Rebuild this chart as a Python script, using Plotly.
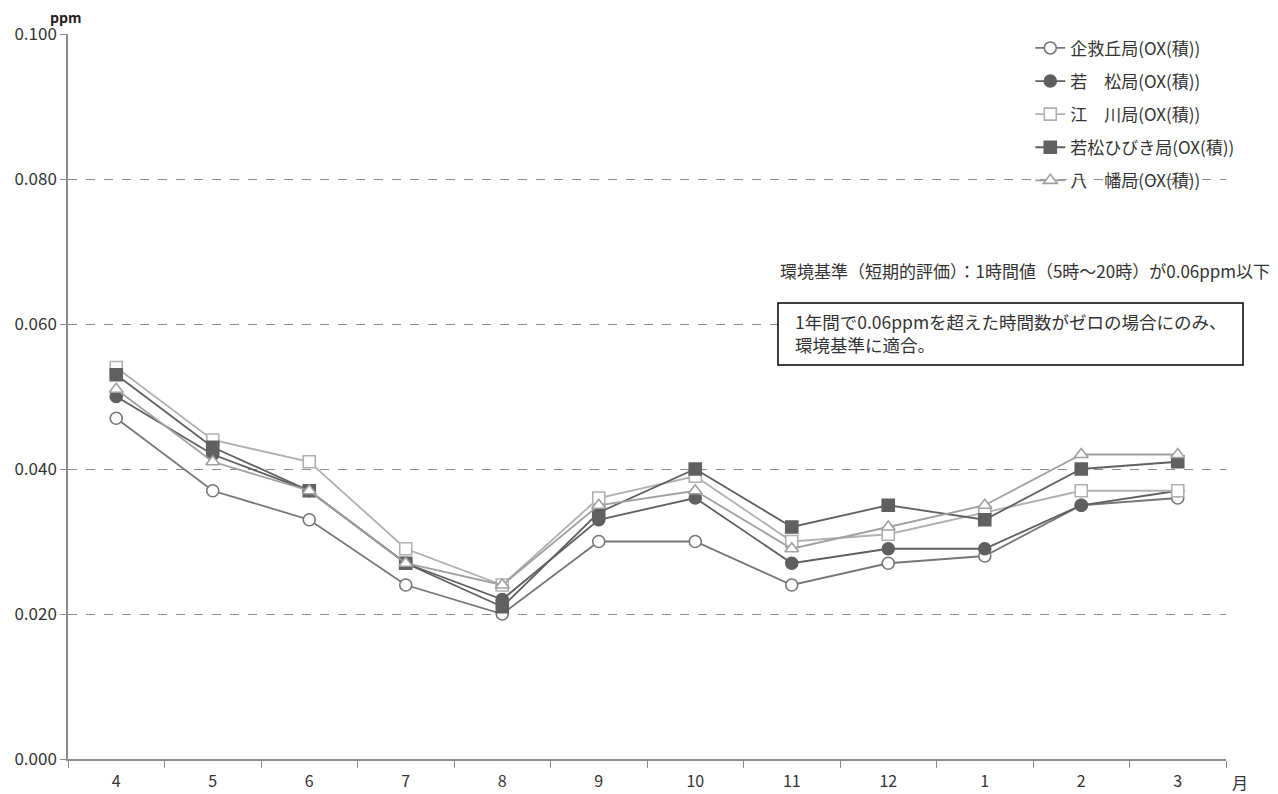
import plotly.graph_objects as go

months = ["4", "5", "6", "7", "8", "9", "10", "11", "12", "1", "2", "3"]

kikugaoka = [0.047, 0.037, 0.033, 0.024, 0.020, 0.030, 0.030, 0.024, 0.027, 0.028, 0.035, 0.036]
wakamatsu = [0.050, 0.042, 0.037, 0.027, 0.022, 0.033, 0.036, 0.027, 0.029, 0.029, 0.035, 0.037]
egawa = [0.054, 0.044, 0.041, 0.029, 0.024, 0.036, 0.039, 0.030, 0.031, 0.034, 0.037, 0.037]
hibiki = [0.053, 0.043, 0.037, 0.027, 0.021, 0.034, 0.040, 0.032, 0.035, 0.033, 0.040, 0.041]
yahata = [0.051, 0.041, 0.037, 0.027, 0.024, 0.035, 0.037, 0.029, 0.032, 0.035, 0.042, 0.042]

series = [
    ("企救丘局(OX(積))", kikugaoka, "circle", "#767676", "white"),
    ("若\u3000松局(OX(積))", wakamatsu, "circle", "#5f5f5f", "#5f5f5f"),
    ("江\u3000川局(OX(積))", egawa, "square", "#b0b0b0", "white"),
    ("若松ひびき局(OX(積))", hibiki, "square", "#606060", "#606060"),
    ("八\u3000幡局(OX(積))", yahata, "triangle-up", "#a0a0a0", "white"),
]

FONT = "Noto Sans CJK JP"

fig = go.Figure()
for i, (name, vals, sym, col, fill) in enumerate(series):
    fig.add_trace(go.Scatter(
        x=months, y=vals, name=name, mode="lines+markers",
        legendgroup=f"g{i}",
        line=dict(color=col, width=1.8),
        marker=dict(symbol=sym, size=12, color=fill, line=dict(color=col, width=1.6)),
    ))

fig.update_layout(
    width=1270, height=786,
    margin=dict(l=60, r=52, t=26, b=35),
    plot_bgcolor="white", paper_bgcolor="white",
    font=dict(family=FONT, size=14, color="#333333"),
    showlegend=True,
    legend=dict(
        x=0.831, y=1.005, xanchor="left", yanchor="top",
        bgcolor="rgba(0,0,0,0)", font=dict(size=17, color="#333333"),
        tracegroupgap=8, itemwidth=30,
    ),
    xaxis=dict(
        type="category", range=[-0.5, 11.5], automargin=False,
        showline=True, linecolor="#8c8c8c", linewidth=1.5,
        ticks="outside", tickson="boundaries", ticklen=7, tickcolor="#8c8c8c",
        ticklabelstandoff=7,
        showgrid=False, tickfont=dict(size=16, color="#333333"),
    ),
    yaxis=dict(
        range=[0, 0.1], dtick=0.02, tickformat=".3f", automargin=False,
        showline=True, linecolor="#8c8c8c", linewidth=1.5,
        ticks="outside", ticklen=6, tickcolor="#8c8c8c",
        showgrid=True, gridcolor="#8c8c8c", griddash="dash", gridwidth=1.3,
        zeroline=False, tickfont=dict(size=17, color="#333333"),
    ),
)

fig.add_shape(
    type="rect", xref="paper", yref="paper",
    x0=0.6131, x1=1.0147, y0=0.5434, y1=0.629,
    line=dict(color="black", width=1.5), fillcolor="white", layer="above",
)

fig.add_annotation(
    xref="paper", yref="paper", x=0.626, y=0.5876, xanchor="left", yanchor="middle",
    text="1年間で0.06ppmを超えた時間数がゼロの場合にのみ、<br>環境基準に適合。",
    showarrow=False, align="left", font=dict(size=17.5, color="#333333"),
)
fig.add_annotation(
    xref="paper", yref="paper", x=0.613, y=0.674, xanchor="left", yanchor="middle",
    text="環境基準（短期的評価）：1時間値（5時～20時）が0.06ppm以下",
    showarrow=False, font=dict(size=17, color="#333333"),
)
fig.add_annotation(
    xref="paper", yref="paper", x=-0.002, y=1.023, xanchor="center", yanchor="middle",
    text="<b>ppm</b>", showarrow=False, font=dict(size=14, color="#222222"),
)
fig.add_annotation(
    xref="paper", yref="paper", x=1.012, y=-0.032, xanchor="center", yanchor="middle",
    text="月", showarrow=False, font=dict(size=16, color="#333333"),
)

fig.write_html("out.html")
